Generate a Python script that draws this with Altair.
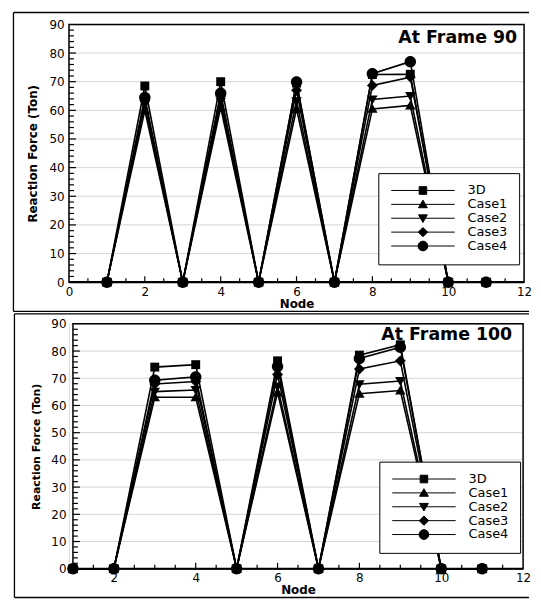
import altair as alt
import pandas as pd

# ---------------- data ----------------
nodes = list(range(1, 12))
series_names = ["3D", "Case1", "Case2", "Case3", "Case4"]

f90_3d    = [0, 68.5, 0, 70.0, 0, 69.5, 0, 72.5, 72.6, 0, 0]
f90_case1 = [0, 60.0, 0, 61.0, 0, 60.5, 0, 60.5, 61.7, 0, 0]
f90_case2 = [0, 62.0, 0, 63.0, 0, 63.2, 0, 63.8, 65.0, 0, 0]
f90_case3 = [0, 63.5, 0, 65.0, 0, 67.0, 0, 68.7, 71.6, 0, 0]
f90_case4 = [0, 64.5, 0, 66.0, 0, 69.9, 0, 72.8, 77.0, 0, 0]

f100_3d    = [0, 0, 74.1, 75.0, 0, 76.4, 0, 78.5, 82.3, 0, 0]
f100_case1 = [0, 0, 63.0, 63.0, 0, 64.8, 0, 64.3, 65.5, 0, 0]
f100_case2 = [0, 0, 65.1, 65.7, 0, 67.0, 0, 67.8, 69.0, 0, 0]
f100_case3 = [0, 0, 67.9, 68.8, 0, 71.4, 0, 73.4, 76.4, 0, 0]
f100_case4 = [0, 0, 69.3, 70.5, 0, 74.3, 0, 77.3, 81.4, 0, 0]

y_label_values = [0, 10, 20, 30, 40, 50, 60, 70, 80, 90]
y_grid_values = [10, 20, 30, 40, 50, 60, 70, 80]
y_major_ticks = [10, 20, 30, 40, 50, 60, 70, 80]
y_minor_ticks = [v for v in range(2, 90, 2) if v % 10 != 0]

x_labels_f90 = [0, 2, 4, 6, 8, 10, 12]
x_major_f90 = [2, 4, 6, 8, 10]
x_minor_f90 = [k / 2 for k in range(1, 24) if k % 4 != 0]

x_labels_f100 = [2, 4, 6, 8, 10, 12]
x_major_f100 = [2, 4, 6, 8, 10]
x_minor_f100 = [k / 2 for k in range(3, 24) if k % 4 != 0]

FONT = "DejaVu Sans"


def fmt(v):
    return f"{v:.2f}"


def marker_paths(c, k=1.0):
    r = 1.15 * k
    a, b, d, e = 0.9 * k, 1.0 * k, 1.05 * k, 0.8 * k
    q = 1.1 * k
    return [
        f"M{fmt(c-a)},{fmt(-a)}H{fmt(c+a)}V{fmt(a)}H{fmt(c-a)}Z",
        f"M{fmt(c)},{fmt(-b)}L{fmt(c+d)},{fmt(e)}L{fmt(c-d)},{fmt(e)}Z",
        f"M{fmt(c)},{fmt(b)}L{fmt(c+d)},{fmt(-e)}L{fmt(c-d)},{fmt(-e)}Z",
        f"M{fmt(c)},{fmt(-q)}L{fmt(c+q)},0L{fmt(c)},{fmt(q)}L{fmt(c-q)},0Z",
        f"M{fmt(c-r)},0A{fmt(r)},{fmt(r)},0,1,0,{fmt(c+r)},0"
        f"A{fmt(r)},{fmt(r)},0,1,0,{fmt(c-r)},0Z",
    ]


def legend_paths(c, half, k):
    line = f"M{fmt(c-half)},0H{fmt(c+half)}"
    return [line + p for p in marker_paths(c, k)]


def panel(series_vals, W, H, x_dom, x_rng, x_labels, x_major, x_minor,
          y_off, y_lab_pad, ytitle_size, leg_x, leg_y, title_text, title_x,
          title_y, frame, x_title_pad):
    rows = []
    for s, arr in zip(series_names, series_vals):
        for n, v in zip(nodes, arr):
            rows.append({"node": n, "series": s, "val": v})
    long_df = pd.DataFrame(rows)

    xs = alt.Scale(domain=x_dom, range=x_rng, nice=False, zero=False)
    ys = alt.Scale(domain=[0, 90], nice=False, zero=False)
    x_left = x_rng[0]
    one = pd.DataFrame({"k": [0]})

    xaxis = alt.Axis(values=x_labels, title="Node", grid=False, ticks=False,
                     domain=False, labelFont=FONT, labelFontSize=12,
                     labelColor="black", labelPadding=4, labelFlush=False,
                     labelOverlap=False,
                     titleFont=FONT, titleFontSize=12, titleFontWeight="bold",
                     titleColor="black", titlePadding=x_title_pad)
    yaxis = alt.Axis(values=y_label_values, title="Reaction Force (Ton)",
                     grid=False, ticks=False, domain=False, labelFont=FONT,
                     labelFontSize=12, labelColor="black", labelOverlap=False,
                     labelPadding=y_lab_pad, titleFont=FONT,
                     titleFontSize=ytitle_size, titleFontWeight="bold",
                     titleColor="black", titlePadding=9, offset=y_off)

    def X(f):
        return alt.X(f, type="quantitative", scale=xs, axis=xaxis)

    def Y(f):
        return alt.Y(f, type="quantitative", scale=ys, axis=yaxis)

    grid = alt.Chart(pd.DataFrame({"g": y_grid_values})).mark_rule(
        color="#d4d4d4", strokeWidth=1).encode(
        y=Y("g"), x=alt.value(x_left), x2=alt.value(W))

    box = alt.Chart(one).mark_rect(fillOpacity=0, stroke="black",
                                   strokeWidth=1.5).encode(
        x=alt.value(x_left), x2=alt.value(W), y=alt.value(0), y2=alt.value(H))

    xline = alt.Chart(one).mark_rule(color="black", strokeWidth=2.2).encode(
        x=alt.value(x_left), x2=alt.value(W), y=alt.value(H))

    ymaj = alt.Chart(pd.DataFrame({"t": y_major_ticks})).mark_rule(
        color="black", strokeWidth=1.2).encode(
        y=Y("t"), x=alt.value(x_left), x2=alt.value(x_left + 7))
    ymin = alt.Chart(pd.DataFrame({"t": y_minor_ticks})).mark_rule(
        color="black", strokeWidth=1.2).encode(
        y=Y("t"), x=alt.value(x_left), x2=alt.value(x_left + 5))
    xmaj = alt.Chart(pd.DataFrame({"t": x_major})).mark_rule(
        color="black", strokeWidth=1.2).encode(
        x=X("t"), y=alt.value(H), y2=alt.value(H - 6))
    xmin = alt.Chart(pd.DataFrame({"t": x_minor})).mark_rule(
        color="black", strokeWidth=1.2).encode(
        x=X("t"), y=alt.value(H), y2=alt.value(H - 4))

    lines = alt.Chart(long_df).mark_line(color="black", strokeWidth=1.6).encode(
        x=X("node"), y=Y("val"), detail="series:N")

    pts = alt.Chart(long_df).mark_point(filled=True, color="black", size=100,
                                        opacity=1).encode(
        x=X("node"), y=Y("val"),
        shape=alt.Shape("series:N",
                        scale=alt.Scale(domain=series_names,
                                        range=marker_paths(0)),
                        legend=None))

    ttl = alt.Chart(one).mark_text(
        text=title_text, align="right", baseline="alphabetic", font=FONT,
        fontSize=17.5, fontWeight="bold", color="black").encode(
        x=alt.value(title_x), y=alt.value(title_y))

    fl, fr, ft, fb = frame
    frame_top = alt.Chart(one).mark_rule(color="black", strokeWidth=1.3).encode(
        x=alt.value(fl), x2=alt.value(fr), y=alt.value(ft))
    frame_bot = alt.Chart(one).mark_rule(color="black", strokeWidth=1.3).encode(
        x=alt.value(fl), x2=alt.value(fr), y=alt.value(fb))
    frame_left = alt.Chart(one).mark_rule(color="black", strokeWidth=1.3).encode(
        x=alt.value(fl), y=alt.value(ft), y2=alt.value(fb))

    leg = alt.Chart(alt.Data(values=[])).mark_point(
        filled=False, fill="black", stroke="black", strokeWidth=1,
        size=100).encode(
        x=X("node"), y=Y("val"),
        shape=alt.Shape("lname:N",
                        scale=alt.Scale(domain=series_names,
                                        range=legend_paths(5.5, 6.4, 0.85)),
                        legend=alt.Legend(
                            orient="none", legendX=leg_x, legendY=leg_y,
                            title=None, fillColor="white", strokeColor="black",
                            padding=11, rowPadding=-2.8, labelFont=FONT,
                            labelFontSize=13, labelColor="black",
                            labelOffset=66, labelLimit=200, symbolSize=100,
                            symbolStrokeWidth=1, symbolOpacity=1)))

    return alt.layer(grid, box, xline, ymin, ymaj, xmin, xmaj, lines, pts,
                     ttl, frame_top, frame_bot, frame_left, leg).resolve_scale(
        shape="independent").properties(width=W, height=H)


top = panel([f90_3d, f90_case1, f90_case2, f90_case3, f90_case4],
            W=459, H=260, x_dom=[0, 12], x_rng=[0, 459],
            x_labels=x_labels_f90, x_major=x_major_f90, x_minor=x_minor_f90,
            y_off=0, y_lab_pad=5, ytitle_size=12, leg_x=312, leg_y=150,
            title_text="At Frame 90", title_x=452, title_y=19,
            frame=(-56, 464, -12, 289.5), x_title_pad=2)

bottom = panel([f100_3d, f100_case1, f100_case2, f100_case3, f100_case4],
               W=458, H=247, x_dom=[1, 12], x_rng=[4, 458],
               x_labels=x_labels_f100, x_major=x_major_f100,
               x_minor=x_minor_f100, y_off=-4, y_lab_pad=7, ytitle_size=11,
               leg_x=313, leg_y=139, title_text="At Frame 100", title_x=447,
               title_y=16, frame=(-55, 464, -10, 276), x_title_pad=1)

chart = alt.vconcat(top, bottom, spacing=42, bounds="flush").properties(
    padding={"left": 3.5, "top": 0, "right": 0, "bottom": 0}
).configure_view(strokeWidth=0).configure(background="white")

chart.save("out.html", embed_options={"renderer": "svg", "actions": False})
